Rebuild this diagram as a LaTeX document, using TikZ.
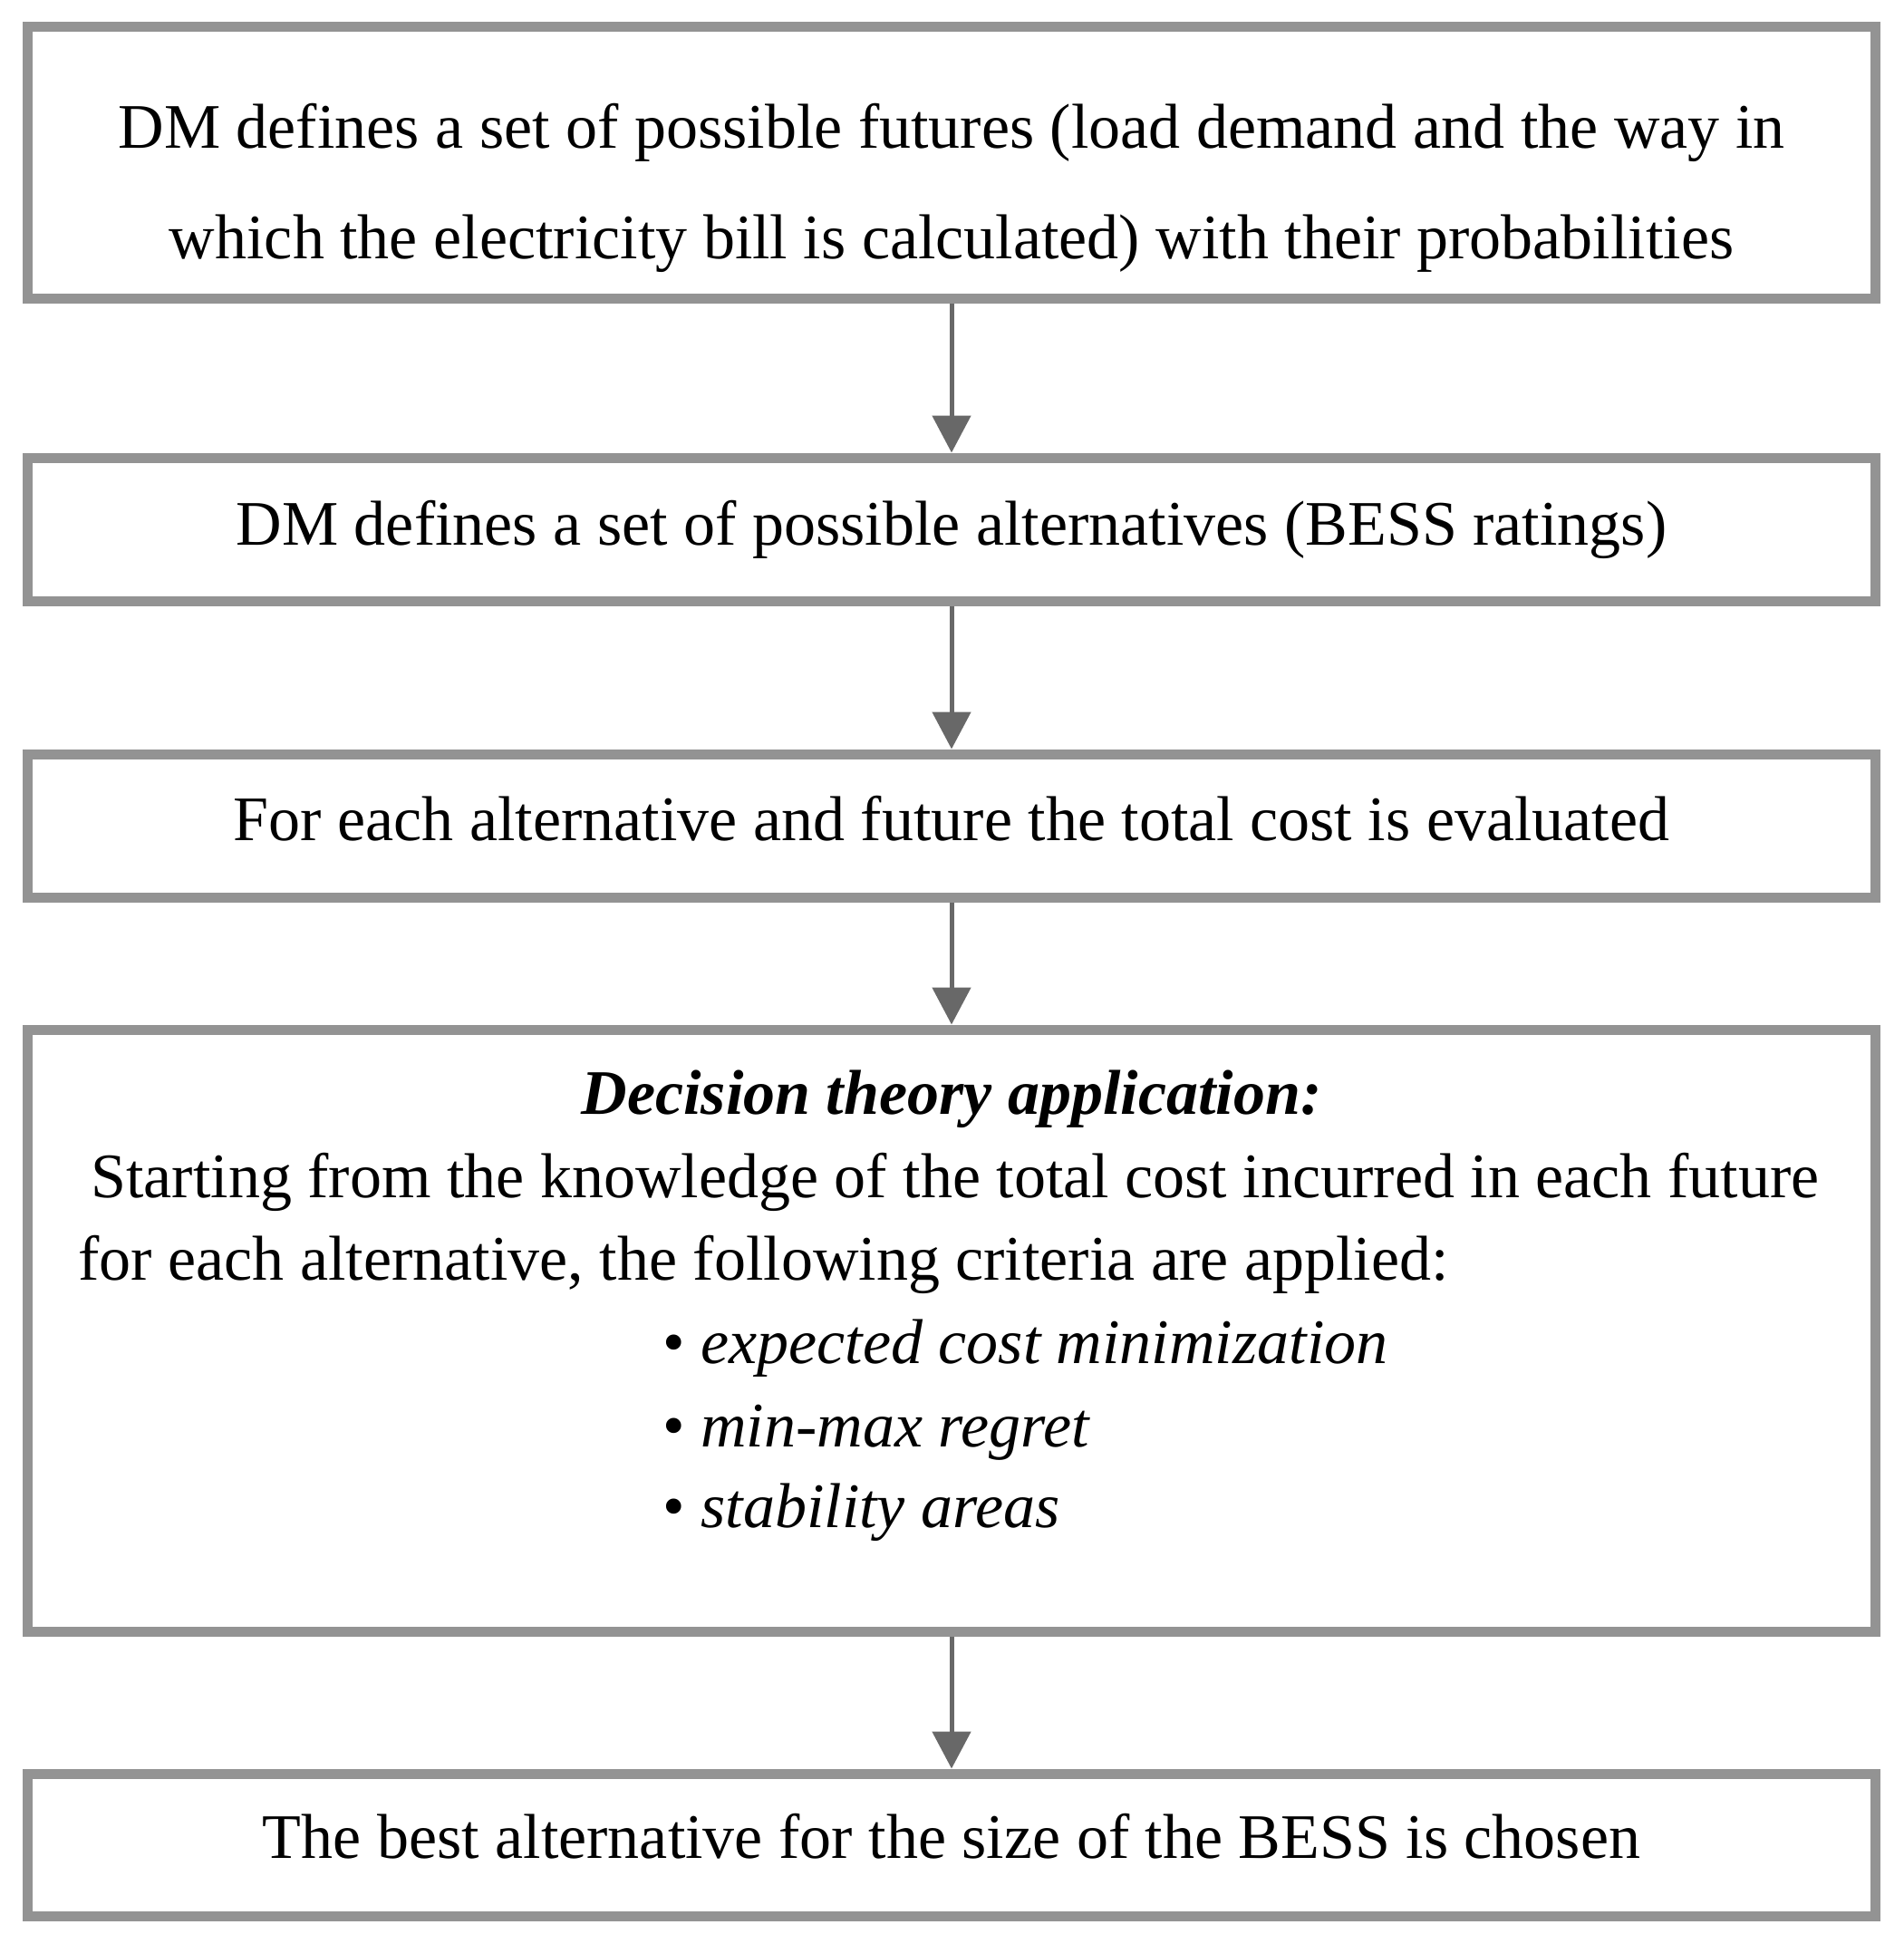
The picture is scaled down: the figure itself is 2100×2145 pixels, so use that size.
\documentclass[tikz,border=0pt]{standalone}
\usepackage{fontspec}
\setmainfont{Liberation Serif}
\usetikzlibrary{arrows.meta}
\definecolor{boxgray}{HTML}{939393}
\definecolor{arrgray}{HTML}{686868}
\begin{document}
\begin{tikzpicture}[x=0.5pt,y=-0.5pt,
  box/.style={draw=boxgray, line width=5.5pt, minimum width=1019.5pt, inner sep=0pt, fill=white},
  arr/.style={draw=arrgray, line width=2.5pt, -{Triangle[length=20.5pt,width=21pt]}, arrgray},
  tx/.style={font=\fontsize{35}{42}\selectfont, inner sep=0pt, anchor=base},
  txl/.style={tx, anchor=base west}]
\useasboundingbox (0,0) rectangle (2100,2145);
\fill[white] (0,0) rectangle (2100,2145);
% boxes
\node[box, minimum height=150pt] (b1) at (1050,180) {};
\node[box, minimum height=79pt] (b2) at (1050,584) {};
\node[box, minimum height=79pt] (b3) at (1050,911) {};
\node[box, minimum height=332pt] (b4) at (1050,1468) {};
\node[box, minimum height=78.5pt] (b5) at (1050,2035.5) {};
% arrows
\draw[arr] (b1.south) -- (b2.north);
\draw[arr] (b2.south) -- (b3.north);
\draw[arr] (b3.south) -- (b4.north);
\draw[arr] (b4.south) -- (b5.north);
% texts
\node[tx] (t1a) at (1050,164) {DM defines a set of possible futures (load demand and the way in};
\node[tx] (t1b) at (1050,286) {which the electricity bill is calculated) with their probabilities};
\node[tx] (t2) at (1050,601) {DM defines a set of possible alternatives (BESS ratings)};
\node[tx] (t3) at (1050,927) {For each alternative and future the total cost is evaluated};
\node[tx, font=\fontsize{35}{42}\selectfont\bfseries\itshape] (t4h) at (1050,1229) {Decision theory application:};
\node[txl] (t4a) at (100,1321) {Starting from the knowledge of the total cost incurred in each future};
\node[txl] (t4b) at (86,1412) {for each alternative, the following criteria are applied:};
\node[txl] (t4c) at (731,1504) {\textbullet\ \textit{expected cost minimization}};
\node[txl] (t4d) at (731,1596) {\textbullet\ \textit{min-max regret}};
\node[txl] (t4e) at (731,1685) {\textbullet\ \textit{stability areas}};
\node[tx] (t5) at (1050,2050) {The best alternative for the size of the BESS is chosen};
\end{tikzpicture}
\end{document}
